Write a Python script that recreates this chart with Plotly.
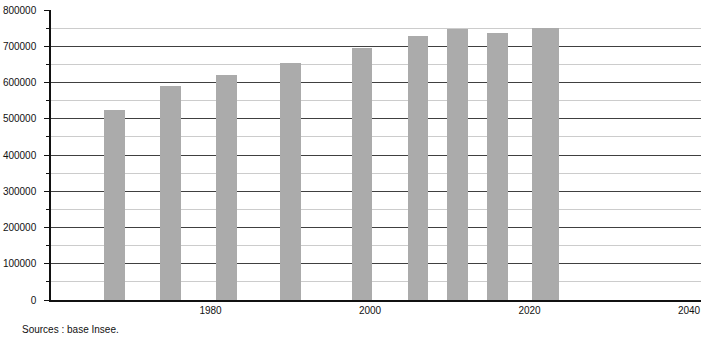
import plotly.graph_objects as go

years = [1968, 1975, 1982, 1990, 1999, 2006, 2011, 2016, 2022]
population = [524000, 590000, 621000, 655000, 696000, 729000, 747000, 737000, 751000]
x_ticks = [1980, 2000, 2020, 2040]
y_ticks = [0, 100000, 200000, 300000, 400000, 500000, 600000, 700000, 800000]

fig = go.Figure()
fig.add_trace(go.Bar(
    x=years, y=population,
    width=[2.6] * 8 + [3.4],
    marker=dict(color="#ababab", line=dict(width=0)),
    hoverinfo="x+y",
))

font = dict(family="Liberation Sans, Arial, sans-serif", size=10, color="#111111")

fig.update_layout(
    width=710, height=340,
    margin=dict(l=51, r=9, t=10, b=40, autoexpand=False),
    paper_bgcolor="white", plot_bgcolor="white",
    font=font,
    showlegend=False,
    bargap=0,
    xaxis=dict(
        range=[1960, 2041.5],
        tickvals=x_ticks,
        ticktext=[str(v) for v in x_ticks],
        showgrid=False, zeroline=False,
        showline=True, linecolor="#111111", linewidth=1.5,
        ticks="", tickfont=font, automargin=False,
    ),
    yaxis=dict(
        range=[0, 800000],
        tickvals=y_ticks,
        ticktext=[str(v) for v in y_ticks],
        showgrid=True, gridcolor="#404040", gridwidth=1,
        zeroline=False,
        showline=True, linecolor="#111111", linewidth=1.5,
        ticks="outside", ticklen=5, tickcolor="#111111", tickwidth=1,
        ticklabelstandoff=6, automargin=False,
        tickfont=font,
        minor=dict(dtick=50000, showgrid=True, gridcolor="#cccccc", gridwidth=1,
                   ticks="outside", ticklen=3, tickcolor="#111111"),
    ),
    annotations=[dict(
        text="Sources : base Insee.", x=0, y=0, xref="paper", yref="paper",
        showarrow=False, font=font, xanchor="left", yanchor="middle",
    )],
)
plot_w = 710 - 51 - 9
plot_h = 340 - 10 - 40
fig.layout.annotations[0].x = (20 - 51) / plot_w
fig.layout.annotations[0].y = (340 - 40 - 329) / plot_h

fig.write_html("out.html")
